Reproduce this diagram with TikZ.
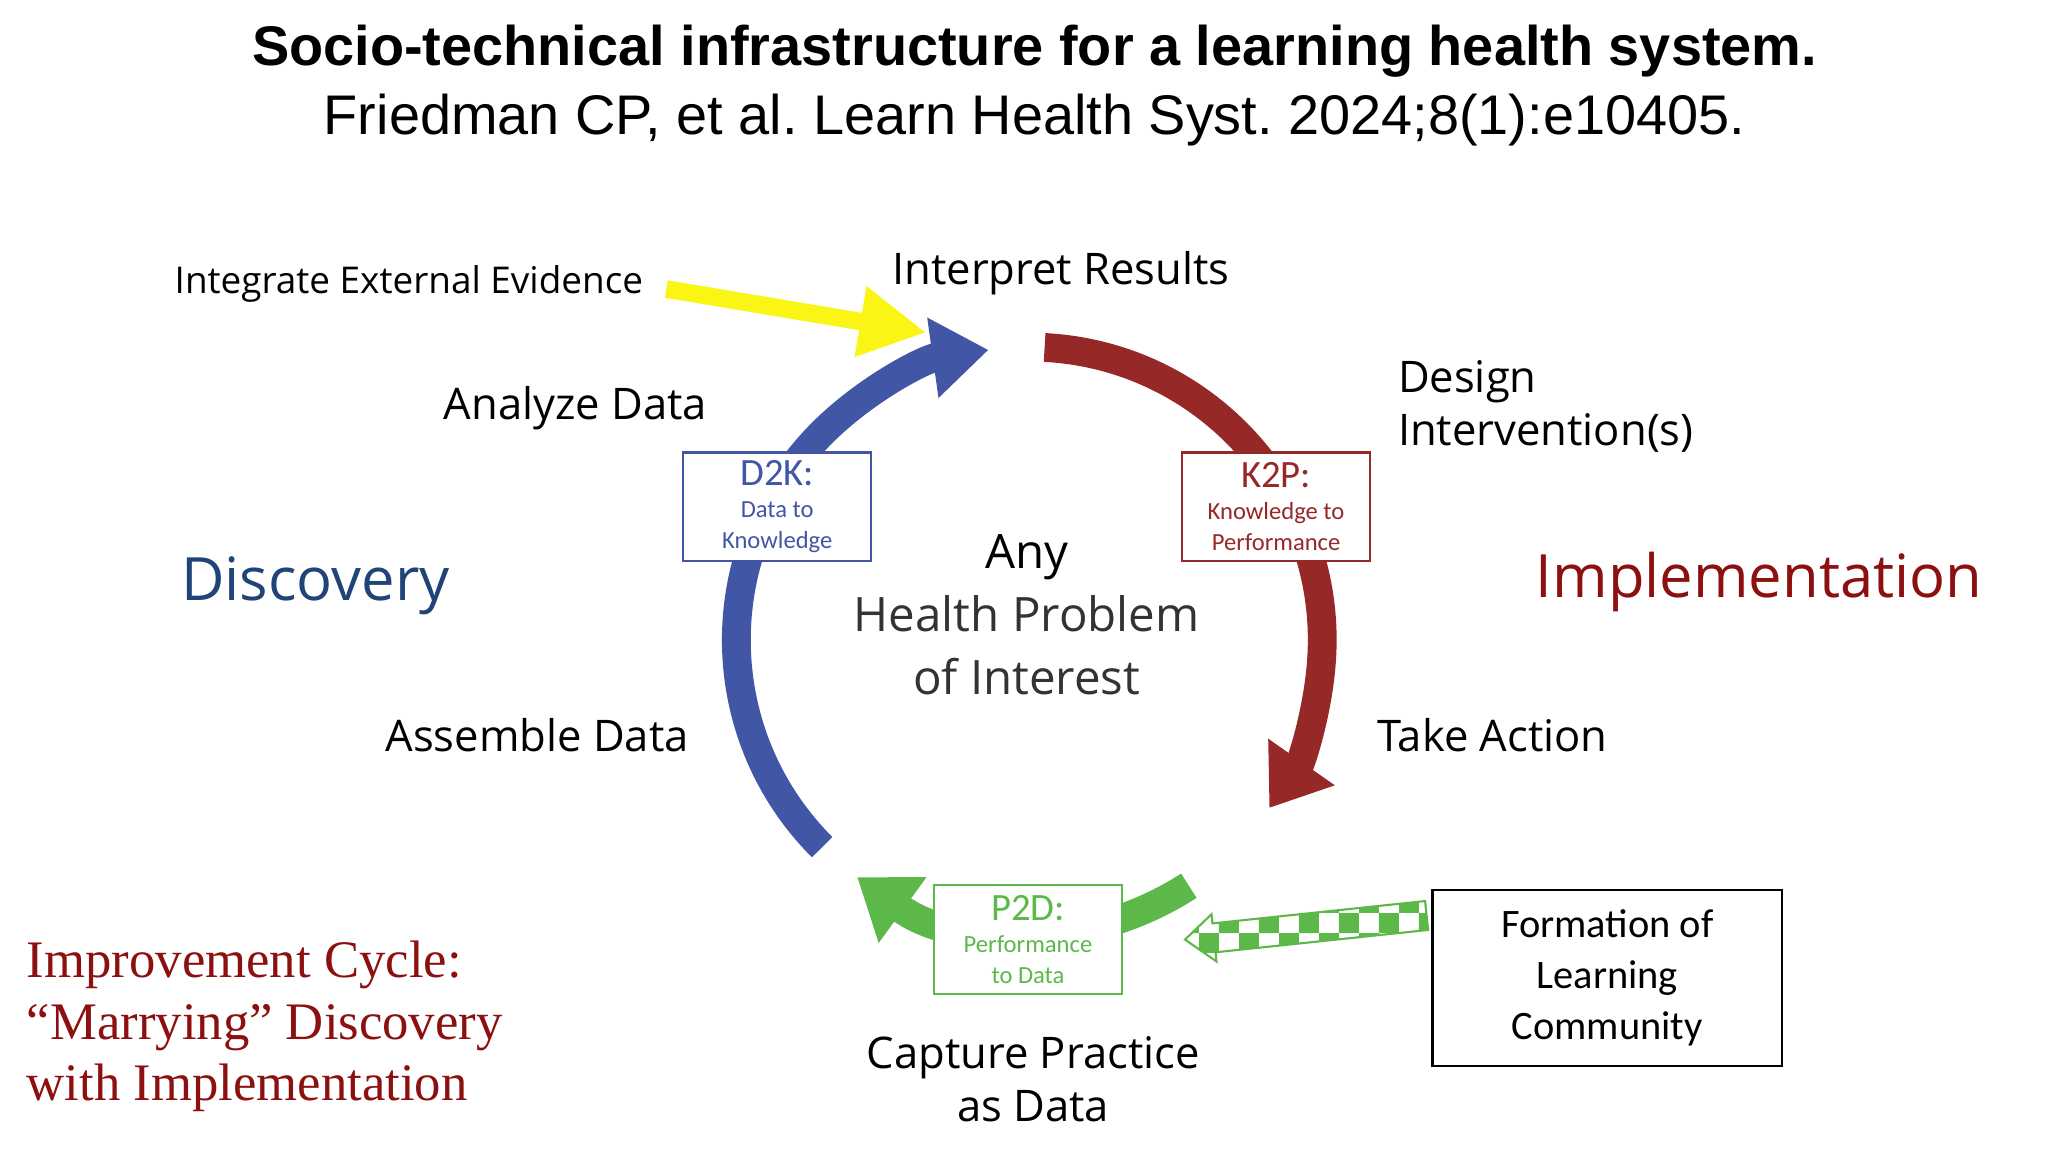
\documentclass[tikz,border=0pt]{standalone}
\usepackage{fontspec}
\setmainfont{Open Sans}
\newfontfamily\titlefont{Liberation Sans}
\newfontfamily\boxfont{Carlito}
\newfontfamily\seriffont{Liberation Serif}
\usetikzlibrary{arrows.meta,patterns}
\definecolor{cblue}{RGB}{66,86,166}
\definecolor{cred}{RGB}{150,40,40}
\definecolor{cgreen}{RGB}{92,184,72}
\definecolor{dblue}{RGB}{32,68,120}
\definecolor{dred}{RGB}{140,16,16}
\definecolor{cyel}{RGB}{250,245,20}
\begin{document}
\begin{tikzpicture}[x=0.013196cm,y=-0.013196cm,
  lab/.style={font=\fontsize{12.4}{15}\selectfont,align=left},
  cyc/.style={line width=8.2pt,-{Triangle[length=16pt,width=22pt]}},
  sbox/.style={draw,line width=0.7pt,fill=white,minimum width=53.5pt,minimum height=31pt,align=center,inner sep=1pt,font=\boxfont}]
\useasboundingbox (0,0) rectangle (1552,873);
\coordinate (C) at (780,485);
% cycle arcs
\draw[cyc,cblue] (C) ++(225:2.93cm) arc[start angle=225,end angle=98,radius=2.93cm];
\draw[cyc,cred] (C) ++(87:2.93cm) arc[start angle=87,end angle=-35,radius=2.93cm];
\draw[cyc,cgreen] (C) ++(-57:2.93cm) arc[start angle=-57,end angle=-126,radius=2.93cm];
% boxes
\node[sbox,draw=cblue,text=cblue] (d2k) at (589,384) {{\fontsize{11}{12}\selectfont D2K:}\\[-3pt]{\fontsize{7}{8}\selectfont Data to}\\[-3pt]{\fontsize{7}{8}\selectfont Knowledge}};
\node[sbox,draw=cred,text=cred] (k2p) at (967,384) {{\fontsize{11}{12}\selectfont K2P:}\\[-3pt]{\fontsize{7}{8}\selectfont Knowledge to}\\[-3pt]{\fontsize{7}{8}\selectfont Performance}};
\node[sbox,draw=cgreen,text=cgreen] (p2d) at (779,712) {{\fontsize{11}{12}\selectfont P2D:}\\[-3pt]{\fontsize{7}{8}\selectfont Performance}\\[-3pt]{\fontsize{7}{8}\selectfont to Data}};
% title
\node[font=\titlefont\bfseries\fontsize{15.9}{19}\selectfont] (title) at (784,39) {Socio-technical infrastructure for a learning health system.};
\node[font=\titlefont\fontsize{15.9}{19}\selectfont] (sub) at (784,91) {Friedman CP, et al.\ Learn Health Syst.\ 2024;8(1):e10405.};
% labels
\node[font=\fontsize{10.5}{13}\selectfont,anchor=west] (iee) at (123,215) {Integrate External Evidence};
\node[lab] (ir) at (804,207) {Interpret Results};
\node[lab] (ad) at (436,309) {Analyze Data};
\node[lab,anchor=west] (di) at (1050,308) {Design\\Intervention(s)};
\node[lab] (asd) at (407,557) {Assemble Data};
\node[lab] (ta) at (1131,557) {Take Action};
\node[lab,align=center] (cp) at (783,818) {Capture Practice\\as Data};
\node[font=\fontsize{13.5}{18}\selectfont,align=center,text=black!80] (hp) at (778,466) {{\color{black}Any}\\Health Problem\\of Interest};
\node[font=\fontsize{17}{20}\selectfont,text=dblue] (disc) at (239,444) {Discovery};
\node[font=\fontsize{17}{20}\selectfont,text=dred] (impl) at (1333,441) {Implementation};
\node[font=\seriffont\fontsize{15}{17.5}\selectfont,text=dred,align=left,anchor=west] (ic) at (11,778) {Improvement Cycle:\\“Marrying” Discovery\\with Implementation};
\node[draw,line width=0.6pt,minimum width=99.5pt,minimum height=50pt,align=center,font=\boxfont\fontsize{11.5}{14.5}\selectfont] (flc) at (1218,741) {Formation of\\Learning\\Community};
% yellow arrow
\coordinate (ya) at (505,219);
\coordinate (yb) at (702,252);
\draw[cyel,line width=5pt,-{Triangle[length=19pt,width=19pt]}] (ya) -- (yb);
% checkered arrow
\coordinate (gt) at (898,712);
\begin{scope}[shift={(gt)},rotate=6]
\draw[cgreen,line width=0.6pt,pattern=checkerboard,pattern color=cgreen]
 (0,0) -- (22,-17) -- (22,-10) -- (184,-10) -- (184,12) -- (22,12) -- (22,19) -- cycle;
\end{scope}
\end{tikzpicture}
\end{document}
